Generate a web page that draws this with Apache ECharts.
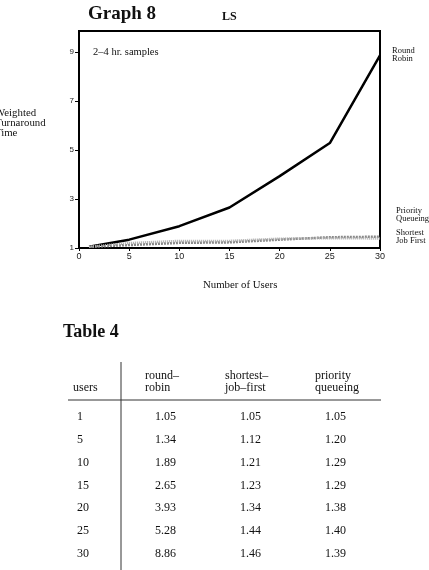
<!DOCTYPE html>
<html>
<head>
<meta charset="utf-8">
<script src="https://cdn.jsdelivr.net/npm/echarts@6/dist/echarts.min.js"></script>
<style>
  html, body { margin: 0; padding: 0; background: #fff; }
  #main { width: 429px; height: 570px; }
</style>
</head>
<body>
<div id="main"></div>
<script>
// data from Table 4
var users = [1, 5, 10, 15, 20, 25, 30];
var roundRobin = [1.05, 1.34, 1.89, 2.65, 3.93, 5.28, 8.86];
var shortestJobFirst = [1.05, 1.12, 1.21, 1.23, 1.34, 1.44, 1.46];
var priorityQueueing = [1.05, 1.20, 1.29, 1.29, 1.38, 1.40, 1.39];
var xTicks = [0, 5, 10, 15, 20, 25, 30];
var yTicks = [1, 3, 5, 7, 9];

var serif = '"Liberation Serif", "DejaVu Serif", serif';

function pairs(ys) {
    var out = [];
    for (var i = 0; i < users.length; i++) out.push([users[i], ys[i]]);
    return out;
}

// y is the vertical middle of the text block
function txt(x, y, s, size, opt) {
    opt = opt || {};
    return {
        type: 'text', x: x, y: y, silent: true,
        style: {
            text: s, fill: '#111', font: (opt.bold ? 'bold ' : '') + size + 'px ' + serif,
            lineHeight: opt.lh || size,
            align: opt.align || 'left', verticalAlign: 'middle'
        }
    };
}

// table built from the arrays
var graphics = [
    txt(88, 14, 'Graph 8', 19, {bold: true}),
    txt(222, 17, 'LS', 12, {bold: true}),
    txt(93, 52, '2\u20134 hr. samples', 10.5),
    txt(-5, 123, 'Weighted\nTurnaround\nTime', 10.8, {lh: 10.3}),
    txt(392, 55, 'Round\nRobin', 8.5, {lh: 8}),
    txt(396, 215, 'Priority\nQueueing', 8.5, {lh: 7.5}),
    txt(396, 236.5, 'Shortest\nJob First', 8.5, {lh: 8}),
    txt(203, 285, 'Number of Users', 10.8),
    txt(63, 332, 'Table 4', 18, {bold: true}),
    txt(73, 388, 'users', 12),
    txt(145, 382, 'round\u2013\nrobin', 12, {lh: 11.5}),
    txt(225, 382, 'shortest\u2013\njob\u2013first', 12, {lh: 11.5}),
    txt(315, 382, 'priority\nqueueing', 12, {lh: 11.5}),
    {type: 'line', silent: true, shape: {x1: 68, y1: 400, x2: 381, y2: 400}, style: {stroke: '#333', lineWidth: 1}},
    {type: 'line', silent: true, shape: {x1: 121, y1: 362, x2: 121, y2: 570}, style: {stroke: '#333', lineWidth: 1}}
];
for (var i = 0; i < users.length; i++) {
    var y = 417 + i * 22.8;
    graphics.push(txt(77, y, String(users[i]), 12));
    graphics.push(txt(155, y, roundRobin[i].toFixed(2), 12));
    graphics.push(txt(240, y, shortestJobFirst[i].toFixed(2), 12));
    graphics.push(txt(325, y, priorityQueueing[i].toFixed(2), 12));
}

var myChart = echarts.init(document.getElementById('main'));
myChart.setOption({
    animation: false,
    backgroundColor: '#fff',
    grid: {
        left: 79, right: 49, top: 31, bottom: 322,
        show: true, borderColor: '#000', borderWidth: 2, backgroundColor: 'transparent'
    },
    xAxis: {
        type: 'value', min: 0, max: 30, interval: 5,
        axisLine: {show: true, lineStyle: {color: '#000', width: 2}},
        axisTick: {show: true, length: 3, lineStyle: {color: '#000'}, customValues: xTicks},
        axisLabel: {color: '#222', fontSize: 9, margin: 4, fontFamily: 'Liberation Sans', customValues: xTicks},
        splitLine: {show: false}
    },
    yAxis: {
        type: 'value', min: 1, max: 9.85,
        axisLine: {show: true, lineStyle: {color: '#000', width: 2}},
        axisTick: {show: true, length: 4, lineStyle: {color: '#000'}, customValues: yTicks},
        axisLabel: {color: '#222', fontSize: 8, margin: 5, fontFamily: 'Liberation Sans', customValues: yTicks},
        splitLine: {show: false}
    },
    series: [
        {
            name: 'Round Robin', type: 'line', data: pairs(roundRobin),
            showSymbol: false, lineStyle: {color: '#000', width: 2.5}
        },
        {
            name: 'Shortest Job First', type: 'line', data: pairs(shortestJobFirst),
            showSymbol: false, lineStyle: {color: '#888', width: 2.5, type: [2, 1]}
        },
        {
            name: 'Priority Queueing', type: 'line', data: pairs(priorityQueueing),
            showSymbol: false, lineStyle: {color: '#aaa', width: 2.5, type: [1, 1]}
        }
    ],
    graphic: graphics
});
</script>
</body>
</html>
